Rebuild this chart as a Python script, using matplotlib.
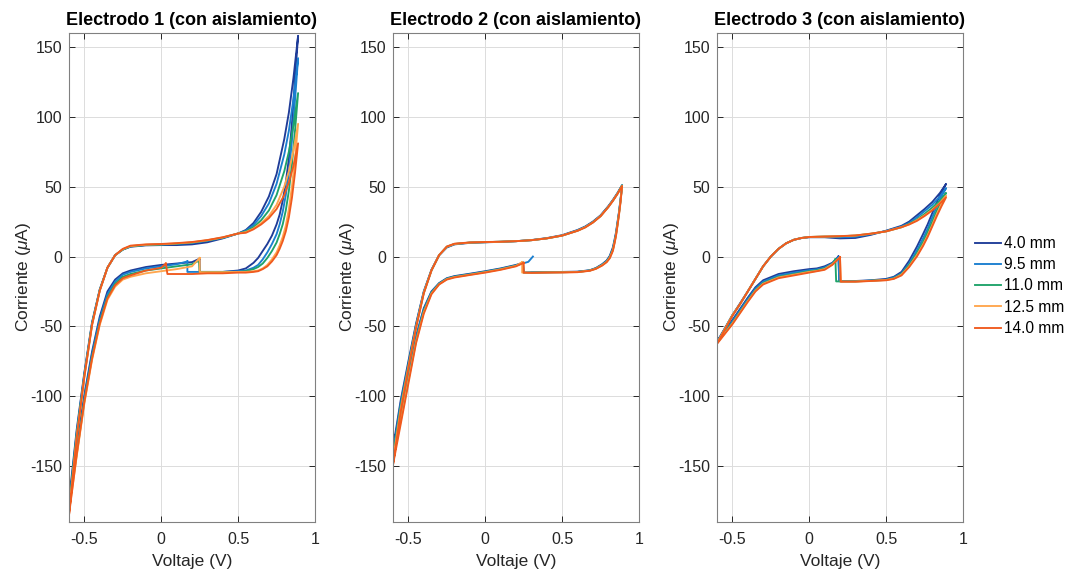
import numpy as np
import matplotlib
matplotlib.use("Agg")
import matplotlib.pyplot as plt
from matplotlib.lines import Line2D

nan = np.nan
labels = ["4.0 mm", "9.5 mm", "11.0 mm", "12.5 mm", "14.0 mm"]
colors = ["#1f3c98", "#1a7fd0", "#1fa36a", "#ffa64d", "#f05a1e"]
titles = ["Electrodo 1 (con aislamiento)", "Electrodo 2 (con aislamiento)",
          "Electrodo 3 (con aislamiento)"]
x_ticks = [-0.5, 0, 0.5, 1]
x_ticklabels = ["-0.5", "0", "0.5", "1"]
y_ticks = [-150, -100, -50, 0, 50, 100, 150]
y_ticklabels = ["-150", "-100", "-50", "0", "50", "100", "150"]

# ---------------- Electrodo 1 ----------------
e1_start_v = [0.25, 0.17, 0.245, 0.25, 0.03]
e1_start_i = [-1.5, -3.5, -3, -1, -5]
e1_end_v = [0.25, 0.17, 0.25, 0.25, 0.04]
e1_end_i = [-11, -11, -11, -11.2, -12.5]
e1_close = [True, True, True, True, True]
e1_cat_v = [0.2, 0.1, 0.0, -0.1, -0.2, -0.25, -0.3, -0.35, -0.4, -0.45, -0.5, -0.55, -0.6]
e1_cat_i = [
    [-4, -5, -6, -7.5, -10, -12, -16.5, -25, -43, -68, -99, -136, -175],
    [nan, -5.5, -7, -8.5, -11, -13, -18, -27, -45, -70, -101, -139, -178],
    [-5.5, -7, -8.5, -10, -12.5, -14.5, -19.5, -29, -47, -72, -103, -141, -180],
    [-7, -9, -10.5, -12, -14.5, -16.5, -21.5, -31, -49, -74, -105, -143, -183],
    [nan, nan, -8, -10, -13.5, -15.5, -20.5, -30, -48, -73, -104, -142, -185],
]
e1_an_v = [-0.6, -0.55, -0.5, -0.45, -0.4, -0.35, -0.3, -0.25, -0.2, -0.1, 0.0, 0.1, 0.2,
           0.3, 0.4, 0.5, 0.55, 0.6, 0.65, 0.7, 0.75, 0.8, 0.83, 0.86, 0.89]
e1_an_i = [
    [-175, -124, -83, -47, -23.5, -8, 1, 5, 7, 8, 8.2, 8.2, 8.7, 10.2, 13, 16.5, 19, 24, 32, 43, 59, 84, 103, 128, 158],
    [-178, -126, -84, -48, -24, -8, 1, 5, 7.3, 8.3, 8.6, 9, 9.8, 11.3, 13.3, 16.5, 18.5, 22.5, 29, 38, 52, 73, 90, 113, 142],
    [-180, -127, -85, -48, -24, -8, 1, 5, 7.3, 8.3, 8.6, 9.2, 10, 11.5, 13.5, 16.5, 18, 21, 26, 33, 44, 61, 75, 94, 117],
    [-183, -129, -86, -49, -24.5, -8, 1, 5.3, 7.5, 8.5, 8.8, 9.4, 10.2, 11.7, 13.7, 16.5, 17.5, 20, 24, 29, 37, 50, 61, 76, 95],
    [-185, -130, -86, -49, -24.5, -8, 1, 5.5, 7.8, 8.7, 9, 9.6, 10.4, 11.8, 13.8, 16.5, 17, 19.5, 23, 27.5, 34, 44, 53, 65, 81],
]
e1_ret_v = [0.89, 0.87, 0.85, 0.83, 0.81, 0.79, 0.77, 0.75, 0.72, 0.69, 0.66, 0.63, 0.6,
            0.55, 0.5, 0.4, 0.3, 0.2, 0.1]
e1_ret_i = [
    [158, 127, 95, 70, 53, 40, 30, 23, 15, 9, 4, -1, -4.5, -8.5, -10, -11, -11, nan, nan],
    [142, 112, 83, 60, 44, 32, 23, 16, 9, 3, -2, -6, -8, -10, -10.5, -11, -11, -11, nan],
    [117, 90, 66, 47, 33, 23, 16, 10, 4, -1, -5, -7.5, -9, -10.5, -11, -11, -11, nan, nan],
    [95, 70, 50, 34, 22, 14, 8, 3, -2, -6, -8.5, -10, -10.5, -11, -11, -11.2, -11.2, nan, nan],
    [81, 60, 42, 28, 18, 11, 5.5, 1, -3.5, -7, -9, -10.5, -11, -11.5, -11.5, -12, -12, -12.5, -12.5],
]

# ---------------- Electrodo 2 ----------------
e2_start_v = [0.245, 0.31, 0.245, 0.24, 0.25]
e2_start_i = [-4.5, 0, -4.5, -4, -4.5]
e2_end_v = [0.25, 0.3, 0.25, 0.24, 0.25]
e2_end_i = [-11.5, -11.5, -11.5, -11.5, -11.5]
e2_close = [True, False, True, True, True]
e2_cat_v = [0.28, 0.2, 0.1, 0.0, -0.1, -0.2, -0.25, -0.3, -0.35, -0.4, -0.45, -0.5, -0.55, -0.6]
e2_cat_i = [
    [nan, -6, -8.5, -10.5, -12.3, -14, -15.5, -19, -25, -37, -57, -84, -110, -137],
    [-3.8, -6.3, -8.8, -10.8, -12.6, -14.3, -15.8, -19.3, -25.5, -38, -58, -86, -113, -140],
    [nan, -6.5, -9, -11, -12.8, -14.5, -16, -19.5, -26, -39, -60, -88, -116, -143],
    [nan, -6.7, -9.2, -11.2, -13, -14.7, -16.2, -19.8, -26.5, -40, -61, -89, -118, -146],
    [nan, -7, -9.5, -11.5, -13.2, -15, -16.5, -20, -27, -41, -62, -91, -120, -149],
]
e2_an_v = [-0.6, -0.55, -0.5, -0.45, -0.4, -0.35, -0.3, -0.25, -0.2, -0.1, 0.0, 0.1, 0.2,
           0.3, 0.4, 0.5, 0.6, 0.65, 0.7, 0.75, 0.8, 0.83, 0.86, 0.89]
e2_an_i = [
    [-137, -103, -75, -48, -25, -9.5, 1, 6.5, 8.7, 9.8, 10.2, 10.5, 11, 11.8, 13.2, 15.3, 19, 21.5, 25, 29.5, 36, 40.5, 45.5, 51],
    [-140, -105, -77, -49, -25.5, -9.8, 1, 6.8, 8.9, 10, 10.3, 10.6, 11, 11.7, 13, 15, 18.7, 21.2, 24.6, 29.2, 35.7, 40.2, 45.2, 51],
    [-143, -107, -78, -50, -26, -10, 1, 7, 9, 10, 10.3, 10.6, 11, 11.7, 13, 15, 18.5, 21, 24.5, 29, 35.5, 40, 45, 51],
    [-146, -109, -79, -50.5, -26, -10, 1, 7, 9, 10, 10.3, 10.6, 11, 11.7, 13, 15, 18.5, 21, 24.4, 29, 35.4, 40, 45, 50.5],
    [-149, -111, -80, -51, -26.5, -10, 1, 7.2, 9.2, 10.1, 10.4, 10.6, 11, 11.7, 13, 15, 18.4, 20.8, 24.3, 28.8, 35.3, 39.8, 44.8, 50.5],
]
e2_ret_v = [0.89, 0.88, 0.87, 0.86, 0.85, 0.84, 0.83, 0.81, 0.79, 0.76, 0.72, 0.68, 0.6, 0.5, 0.4, 0.3]
e2_ret_i = [
    [51, 41, 32, 24.5, 17, 11.5, 6.5, 0.5, -2.8, -5.5, -8.2, -9.8, -10.8, -11, -11.2, -11.3],
    [51, 40.5, 31.5, 23.5, 16, 10.5, 5.5, 0, -3.2, -5.8, -8.4, -9.9, -11, -11.2, -11.3, -11.5],
    [51, 40, 31, 23, 15.5, 10, 5, -0.5, -3.5, -6, -8.5, -10, -11, -11.2, -11.3, -11.5],
    [50.5, 39.5, 30.5, 22.5, 15, 9.5, 4.5, -0.8, -3.8, -6.2, -8.7, -10.1, -11.1, -11.3, -11.4, -11.6],
    [50.5, 39, 30, 22, 14.5, 9, 4, -1.2, -4, -6.5, -8.8, -10.2, -11.2, -11.4, -11.5, -11.7],
]

# ---------------- Electrodo 3 ----------------
e3_start_v = [0.19, 0.19, 0.17, 0.2, 0.2]
e3_start_i = [0, -0.5, -2, -0.5, -0.5]
e3_end_v = [0.195, 0.195, 0.175, 0.205, 0.205]
e3_end_i = [-17.5, -17.7, -17.8, -17.9, -18]
e3_close = [True, True, True, True, True]
e3_cat_v = [0.15, 0.1, 0.05, 0.0, -0.1, -0.2, -0.3, -0.35, -0.4, -0.45, -0.5, -0.55, -0.6]
e3_cat_i = [
    [-4.5, -7, -8.5, -9, -10.5, -12.5, -17, -22, -29.5, -37.5, -45.5, -53, -61],
    [-5, -7.8, -9.2, -9.8, -11.5, -13.5, -18, -23, -30.5, -38.5, -46.5, -54, -61.5],
    [-5.5, -8.5, -9.8, -10.5, -12.5, -14.5, -19, -24, -31.5, -39.5, -47.5, -54.5, -62],
    [-5.5, -9, -10.3, -11, -13, -15, -19.5, -24.5, -32, -40, -48, -55, -62],
    [-6, -9.5, -10.5, -11.5, -13.5, -15.5, -20, -25, -32.5, -40.5, -48.5, -55.5, -62.5],
]
e3_an_v = [-0.6, -0.55, -0.5, -0.45, -0.4, -0.35, -0.3, -0.25, -0.2, -0.15, -0.1, -0.05, 0.0,
           0.1, 0.2, 0.3, 0.4, 0.5, 0.6, 0.65, 0.7, 0.75, 0.8, 0.85, 0.89]
e3_an_i = [
    [-61, -51.5, -42, -33.5, -25, -16, -7, 0, 5.5, 9.5, 12, 13.2, 13.8, 13.8, 13, 13.3, 15.5, 18.5, 22, 25, 29.5, 34, 39, 45.5, 52],
    [-61.5, -52, -42, -34, -25, -16, -7, 0, 5.5, 9.5, 12, 13.3, 14, 14.1, 13.8, 14.2, 16, 18.3, 21.5, 24, 28, 32.5, 37, 43, 49],
    [-62, -52, -42, -34, -25, -16, -7, 0, 5.5, 9.5, 12, 13.3, 14, 14.3, 14.5, 15, 16.3, 18, 21, 23.5, 26.5, 30.5, 35, 40, 45.5],
    [-62, -52, -42, -34, -25, -16, -7, 0, 5.5, 9.5, 12, 13.3, 14, 14.3, 14.5, 15, 16.3, 18, 21, 23, 26, 29.5, 33.5, 38.5, 43.6],
    [-62.5, -52.5, -42.5, -34, -25, -16, -7, 0, 5.5, 9.5, 12, 13.3, 14, 14.3, 14.6, 15.1, 16.4, 18, 21, 23, 25.5, 29, 33, 38, 42.4],
]
e3_ret_v = [0.89, 0.86, 0.83, 0.8, 0.77, 0.74, 0.7, 0.65, 0.6, 0.55, 0.5, 0.4, 0.3]
e3_ret_i = [
    [52, 46, 39, 31, 23, 16, 7, -3, -11, -14.5, -16, -17, -17.5],
    [49, 43, 36, 28, 20, 13, 4.5, -5, -12, -15, -16.5, -17.2, -17.7],
    [45.5, 40, 33, 25, 17.5, 10.5, 2.5, -6, -12.5, -15.5, -16.7, -17.3, -17.8],
    [43.6, 37.5, 30.5, 22.5, 15, 8.5, 1, -7, -13, -15.8, -16.8, -17.4, -17.9],
    [42.4, 36, 29, 21.5, 14, 7.5, 0, -7.5, -13.5, -16, -17, -17.5, -18],
]

panels = [
    (e1_start_v, e1_start_i, e1_end_v, e1_end_i, e1_close, e1_cat_v, e1_cat_i, e1_an_v, e1_an_i, e1_ret_v, e1_ret_i),
    (e2_start_v, e2_start_i, e2_end_v, e2_end_i, e2_close, e2_cat_v, e2_cat_i, e2_an_v, e2_an_i, e2_ret_v, e2_ret_i),
    (e3_start_v, e3_start_i, e3_end_v, e3_end_i, e3_close, e3_cat_v, e3_cat_i, e3_an_v, e3_an_i, e3_ret_v, e3_ret_i),
]


def build_path(k, sv, si, ev, ei, close, cv, ci, av, ai, rv, ri):
    cv = np.asarray(cv); ci = np.asarray(ci[k], dtype=float)
    rv = np.asarray(rv); ri = np.asarray(ri[k], dtype=float)
    mc = (cv < sv[k] - 0.005) & ~np.isnan(ci)
    mr = (rv > ev[k] + 0.005) & ~np.isnan(ri)
    V = [sv[k]] + list(cv[mc]) + list(av) + list(rv[mr]) + [ev[k]]
    I = [si[k]] + list(ci[mc]) + list(ai[k]) + list(ri[mr]) + [ei[k]]
    if close[k]:
        V.append(sv[k]); I.append(si[k])
    return V, I


plt.rcParams["font.family"] = ["Liberation Sans", "DejaVu Sans"]
plt.rcParams["mathtext.fontset"] = "custom"
plt.rcParams["mathtext.it"] = "Liberation Sans:italic"
plt.rcParams["mathtext.rm"] = "Liberation Sans"
plt.rcParams["axes.unicode_minus"] = False

fig = plt.figure(figsize=(10.66, 5.71), dpi=100)
lefts = [69 / 1066, 393 / 1066, 717 / 1066]
w = 246 / 1066
b = 1 - 522 / 571
h = 489 / 571
edge = "#262626"
for p, (data, title) in enumerate(zip(panels, titles)):
    ax = fig.add_axes([lefts[p], b, w, h])
    for k in range(5):
        V, I = build_path(k, *data)
        ax.plot(V, I, color=colors[k], lw=1.35, solid_joinstyle="round")
    ax.set_xlim(-0.6, 1.0)
    ax.set_ylim(-190, 160)
    ax.set_xticks(x_ticks)
    ax.set_xticklabels(x_ticklabels)
    ax.set_yticks(y_ticks)
    ax.set_yticklabels(y_ticklabels)
    ax.grid(True, color="#dcdcdc", lw=0.7)
    ax.set_axisbelow(True)
    ax.tick_params(direction="in", top=True, right=True, length=4, width=0.7,
                   labelsize=11.5, colors=edge)
    ax.tick_params(axis="x", pad=7)
    ax.tick_params(axis="y", pad=5)
    for s in ax.spines.values():
        s.set_color("#808080")
        s.set_linewidth(0.8)
    ax.set_title(title, fontsize=13, fontweight="bold", color="#000000", pad=6)
    ax.set_xlabel("Voltaje (V)", fontsize=12.5, color=edge, labelpad=5)
    ax.set_ylabel("Corriente ($\\mu$A)", fontsize=12.5, color=edge, labelpad=-2)

handles = [Line2D([0], [0], color=c, lw=1.35) for c in colors]
fig.legend(handles, labels, loc="center left", bbox_to_anchor=(975 / 1066, 1 - 286 / 571),
           frameon=False, fontsize=11.2, handlelength=1.7, handletextpad=0.15,
           labelspacing=0.4, borderaxespad=0, borderpad=0)

fig.savefig("out.png", dpi=100)
